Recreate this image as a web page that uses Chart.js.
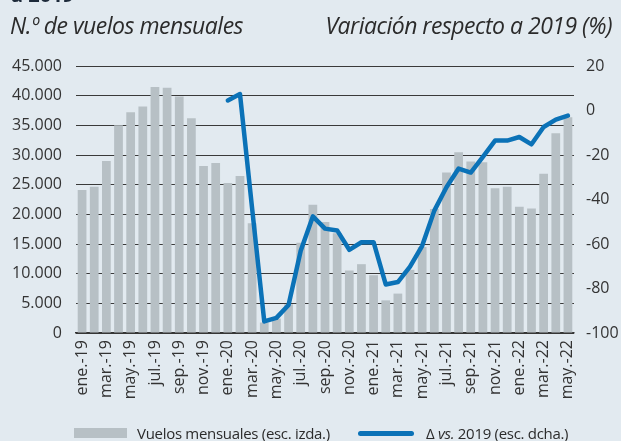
<!DOCTYPE html>
<html>
<head>
<meta charset="utf-8">
<script src="https://cdn.jsdelivr.net/npm/chart.js@4.4.1/dist/chart.umd.min.js"></script>
<style>
  html, body { margin: 0; padding: 0; background: #e2eaf0; }
  #wrap { position: relative; width: 621px; height: 441px; overflow: hidden; background: #e2eaf0; font-family: 'Open Sans', sans-serif; color: #2b2b2b; }
  #chart { position: absolute; left: 0; top: 0; }
  .cut { position: absolute; left: 11px; top: -19px; font-weight: bold; font-size: 20px; color: #1d2a3a; }
  .axt { position: absolute; top: 9px; font-style: italic; font-size: 23px; letter-spacing: -0.5px; }
  .leg { position: absolute; top: 423px; font-size: 15px; letter-spacing: -0.3px; white-space: nowrap; }
  .sw { position: absolute; }
</style>
</head>
<body>
<div id="wrap">
  <canvas id="chart" width="621" height="441"></canvas>
  <div class="cut">a 2019</div>
  <div class="axt" style="left:10px">N.º de vuelos mensuales</div>
  <div class="axt" style="right:9px">Variación respecto a 2019 (%)</div>
  <div class="sw" style="left:74px; top:428px; width:53px; height:10px; background:#b7c0c5"></div>
  <div class="leg" style="left:137px">Vuelos mensuales (esc. izda.)</div>
  <div class="sw" style="left:358px; top:431px; width:56px; height:5px; border-radius:3px; background:#0b72b7"></div>
  <div class="leg" style="left:426px">Δ <i>vs.</i> 2019 (esc. dcha.)</div>
</div>
<script>
// months ene-19 .. may-22
const meses = ['ene.', 'feb.', 'mar.', 'abr.', 'may.', 'jun.', 'jul.', 'ago.', 'sep.', 'oct.', 'nov.', 'dic.'];
const labels = [];
['19', '20', '21', '22'].forEach(y => meses.forEach(m => labels.push(m + '-' + y)));
labels.length = 41;

// N.º de vuelos mensuales (left axis)
const vuelos = [
  24100, 24660, 29000, 35020, 37220, 38180, 41440, 41330, 39860, 36200, 28150, 28660,
  25280, 26460, 18500, 1760, 2430, 4850, 15200, 21620, 18700, 16800, 10530, 11600,
  9740, 5500, 6640, 10650, 14500, 20900, 27050, 30460, 28890, 28770, 24380, 24660,
  21280, 21000, 26860, 33670, 36370
];

// Variación respecto a 2019 (%), from ene-20 (right axis)
const variacion = [
  4.5, 7.4, -44, -94.8, -93.2, -87.4, -63, -47.6, -53.1, -53.9, -62.6, -59.2,
  -59.2, -78.2, -77.1, -70.2, -60.8, -45, -34.5, -26.1, -27.9, -20.8, -13.5, -13.5,
  -11.9, -15.2, -7.4, -4.1, -2.3
];
const variacionFull = new Array(labels.length - variacion.length).fill(null).concat(variacion);

const tickFont = { family: "'Open Sans', sans-serif", size: 16 };
const tickColor = '#333';
const fmtMiles = v => String(v).replace(/\B(?=(\d{3})+(?!\d))/g, '.');

const chart = new Chart(document.getElementById('chart').getContext('2d'), {
    type: 'bar',
    data: {
        labels: labels,
        datasets: [{
            type: 'line',
            label: 'Δ vs. 2019 (esc. dcha.)',
            data: variacionFull,
            yAxisID: 'y1',
            borderColor: '#0b72b7',
            borderWidth: 4.5,
            pointRadius: 0,
            tension: 0,
            borderJoinStyle: 'round',
            borderCapStyle: 'round',
            order: 0
        }, {
            label: 'Vuelos mensuales (esc. izda.)',
            data: vuelos,
            yAxisID: 'y',
            backgroundColor: '#b7c0c5',
            barPercentage: 0.72,
            categoryPercentage: 1,
            order: 1
        }]
    },
    options: {
        responsive: false,
        animation: false,
        devicePixelRatio: 1,
        layout: { padding: { top: 66, bottom: 33, left: 0, right: 0 } },
        plugins: { legend: { display: false }, tooltip: { enabled: false } },
        scales: {
            x: {
                grid: { display: true, drawOnChartArea: false, drawTicks: true, tickLength: -5, color: '#333', lineWidth: 1.5 },
                border: { display: true, color: '#333', width: 1.5 },
                ticks: {
                    autoSkip: false, maxRotation: 90, minRotation: 90, padding: 12,
                    color: tickColor, font: tickFont,
                    callback: (v, i) => i % 2 === 0 ? labels[i] : null
                },
                afterFit: s => { s.height = 75; }
            },
            y: {
                position: 'left',
                min: 0, max: 45000,
                grid: { color: '#3a3a3a', lineWidth: 1, drawTicks: false },
                border: { display: false },
                ticks: { stepSize: 5000, padding: 14, color: tickColor, font: tickFont, callback: v => fmtMiles(v) },
                afterFit: s => { s.width = 76; }
            },
            y1: {
                position: 'right',
                min: -100, max: 20,
                grid: { display: false, drawOnChartArea: false, drawTicks: false },
                border: { display: false },
                ticks: { stepSize: 20, padding: 12, color: tickColor, font: tickFont },
                afterFit: s => { s.width = 47; }
            }
        }
    }
});
</script>
</body>
</html>
